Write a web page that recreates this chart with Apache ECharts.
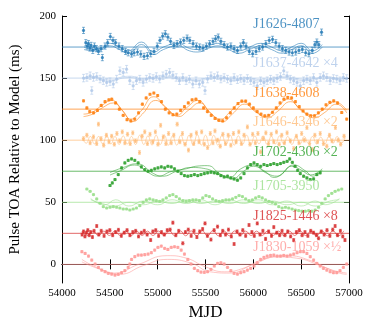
<!DOCTYPE html>
<html><head><meta charset="utf-8">
<script src="https://cdn.jsdelivr.net/npm/echarts@6/dist/echarts.min.js"></script>
<style>html,body{margin:0;padding:0;background:#fff}#c{width:374px;height:326px}</style>
</head><body><div id="c"></div>
<script>
// ---- axis / tick labels ----
const xTicks = [54000, 54500, 55000, 55500, 56000, 56500, 57000];
const yTicks = [0, 50, 100, 150, 200];
// ---- series meta ----
const names = ['J1626-4807', 'J1637-4642 ×4', 'J1638-4608', 'J1646-4346 ×2', 'J1702-4306 ×2', 'J1705-3950', 'J1825-1446 ×8', 'J1830-1059 ×½'];
const offsets = [175, 150, 125, 100, 75, 50, 25, 0];
const errors = [2.5, 3, 0.8, 1.5, 0.8, 0.6, 1.2, 0.8];
const colors = ['#1f77b4', '#aec7e8', '#ff7f0e', '#ffbb78', '#2ca02c', '#98df8a', '#d62728', '#ff9896'];
// ---- residuals [MJD, ms] ----
const J1626 = [[54225,13.4],[54249,3.5],[54263,0.8],[54277,2.7],[54291,-0.8],[54304,1.3],[54322,-2.7],[54339,0.8],[54360,-1.3],[54381,-3.5],[54408,-1.3],[54422,-8.5],[54450,0.8],[54477,3.5],[54505,8.5],[54533,5.4],[54560,3.5],[54595,0.8],[54630,-1.3],[54664,-3.5],[54692,-4.6],[54727,-5.6],[54754,-4.6],[54789,-4],[54823,-5.6],[54858,-7.5],[54893,-7],[54927,-5.4],[54962,-3.5],[54996,0.8],[55024,5.4],[55052,8.8],[55080,10.7],[55107,8],[55135,4.6],[55170,1.3],[55204,2.7],[55239,4],[55273,5.4],[55308,7.2],[55336,5.4],[55370,2.7],[55405,0.8],[55439,0],[55474,-0.8],[55509,0.8],[55543,2.7],[55578,4.6],[55605,6.7],[55633,8],[55661,4.6],[55695,1.9],[55730,0],[55765,0.8],[55799,-1.3],[55834,-2.7],[55868,0.8],[55896,3.5],[55924,0.8],[55958,-3.5],[55993,-5.4],[56028,-3.5],[56062,-1.3],[56097,0],[56131,2.7],[56166,5.4],[56201,6.2],[56235,3.5],[56270,0.8],[56304,-1.3],[56339,-2.7],[56374,-4],[56408,-4.6],[56443,-4],[56477,-2.7],[56512,-1.9],[56547,-4.6],[56581,-5.4],[56616,-2.7],[56643,1.9],[56664,4],[56685,1.9],[56713,12]];
const J1637 = [[54225,0],[54260,0.5],[54294,1.9],[54311,-10],[54329,0.5],[54363,1.3],[54398,-0.8],[54432,-2.1],[54467,-3.5],[54502,-2.9],[54536,-4.8],[54571,-0.8],[54605,5.9],[54640,4.6],[54675,7.2],[54709,-2.1],[54744,-6.2],[54778,-2.1],[54813,-0.8],[54848,-3.5],[54882,-0.8],[54917,0.5],[54952,-0.3],[54986,1.3],[55021,-0.8],[55055,1.9],[55090,3.2],[55125,4.6],[55159,2.4],[55194,0.5],[55228,-2.1],[55263,0.5],[55298,-2.1],[55332,-0.8],[55367,-4.8],[55401,-2.1],[55436,-4.8],[55471,-3.5],[55495,-10],[55522,-0.8],[55557,1.9],[55592,0.5],[55626,1.9],[55661,-0.8],[55695,0.5],[55730,-0.8],[55765,-2.1],[55799,0.5],[55834,-1.3],[55868,-0.3],[55903,-2.1],[55938,-0.3],[55972,-2.1],[56007,-3.5],[56041,-6.2],[56076,-2.1],[56111,-3.5],[56145,-2.1],[56180,-0.8],[56214,-2.1],[56249,-0.3],[56284,1.3],[56318,5.9],[56353,1.9],[56387,-0.8],[56422,-2.1],[56457,-3.5],[56491,-6.2],[56526,-2.1],[56560,-0.8],[56595,-2.1],[56630,0.5],[56664,-3.5],[56699,0.5],[56733,1.9],[56768,0.5],[56803,-2.1],[56837,-0.3],[56872,-0.8],[56906,-2.1],[56941,0.5],[56976,-0.3]];
const J1638 = [[54225,6.7],[54260,1],[54290,-2],[54330,-3],[54370,-1],[54410,3],[54450,6],[54490,7.5],[54520,8],[54560,5],[54600,0],[54640,-5],[54680,-8.5],[54720,-9.5],[54760,-8],[54800,-3],[54840,4],[54880,9],[54920,12],[54960,13],[55000,11],[55040,6],[55080,0],[55120,-3],[55160,-4.5],[55200,-4],[55240,-1],[55280,2],[55320,5],[55360,7.5],[55400,8],[55440,6],[55480,1],[55520,-2],[55560,-5],[55600,-7.5],[55640,-9],[55680,-9.5],[55720,-7],[55760,-3],[55800,1],[55840,4.5],[55880,6.5],[55920,6.5],[55960,4],[56000,1],[56040,-2],[56080,-4],[56120,-5.4],[56160,-5],[56200,-2.5],[56240,1],[56280,5],[56320,8],[56360,9.4],[56400,9],[56440,6],[56480,2],[56520,-1.5],[56560,-4],[56600,-5.4],[56640,-5.4],[56680,-3],[56720,0],[56760,3.5],[56800,5.5],[56840,6.7],[56880,5],[56924,-2.7],[56976,-8]];
const J1646 = [[54225,1.3],[54260,4],[54294,-2.1],[54329,2.7],[54363,-2.7],[54381,12.9],[54408,1.3],[54436,-4],[54464,4],[54491,-1.3],[54519,3.2],[54547,-3.2],[54574,5.4],[54602,-0.5],[54630,6.7],[54657,-2.1],[54685,4.8],[54713,-2.7],[54740,5.9],[54768,-0.5],[54810,-9.9],[54837,3.2],[54865,6.7],[54893,-2.7],[54920,4.8],[54948,-1.3],[54976,6.7],[55003,-3.2],[55031,12],[55059,2.7],[55086,-2.7],[55114,5.4],[55142,-2.1],[55169,4],[55204,12.9],[55232,-1.3],[55259,5.4],[55287,-3.2],[55322,-8],[55349,4],[55377,-2.7],[55405,5.9],[55432,-1.3],[55460,6.7],[55488,-3.2],[55522,-5.9],[55550,5.4],[55578,-2.1],[55599,7.5],[55626,0],[55654,-4.8],[55682,4.8],[55709,-2.7],[55737,4],[55765,-4],[55792,5.4],[55820,-1.3],[55848,6.7],[55875,-2.7],[55903,4],[55938,10.7],[55965,-3.2],[55993,4.8],[56021,-2.1],[56048,5.4],[56076,-9.4],[56104,1.3],[56131,5.9],[56159,-2.7],[56187,4.8],[56214,-1.3],[56242,6.7],[56270,-3.2],[56297,4],[56325,-2.1],[56353,5.9],[56387,-0.5],[56422,-6.7],[56450,3.2],[56477,-2.1],[56505,5.4],[56533,0],[56560,10.2],[56588,-2.7],[56616,-7.5],[56643,4],[56671,-1.3],[56699,5.4],[56733,-2.7],[56768,-4.8],[56796,4],[56823,-0.5],[56858,10.2],[56886,0],[56913,-3.2],[56948,3.2]];
const J1702 = [[54502,-11.5],[54526,-9.4],[54554,-6.7],[54588,-2.7],[54623,2.7],[54657,6.7],[54692,8.8],[54727,9.9],[54761,8.8],[54796,6.7],[54830,3.5],[54865,1.3],[54900,0],[54934,0.8],[54969,1.9],[55003,2.7],[55038,3.5],[55073,2.7],[55107,4],[55142,3.5],[55176,1.9],[55211,0],[55246,-1.9],[55280,-3.5],[55315,-4],[55349,-3.5],[55384,-2.7],[55419,-3.5],[55453,-2.7],[55488,-1.9],[55522,-1.3],[55557,-0.8],[55592,-1.3],[55626,-1.9],[55661,-3.5],[55695,-4.6],[55730,-4],[55765,-5.4],[55799,-6.2],[55834,-7.2],[55868,-5.4],[55903,-1.9],[55938,2.7],[55972,5.4],[56007,6.7],[56041,5.4],[56076,4],[56111,5.4],[56145,4.6],[56180,5.4],[56214,6.2],[56249,5.4],[56284,6.2],[56318,7.2],[56353,8],[56380,9.9],[56408,7.2],[56436,4],[56463,0.8],[56491,-1.9],[56526,-4],[56560,-5.4],[56595,-6.7],[56630,-6.2],[56664,-2.7],[56699,-1.3]];
const J1705 = [[54260,10.7],[54294,8.8],[54329,6.2],[54363,2.7],[54398,-0.8],[54432,-3.5],[54467,-4.6],[54502,-4],[54536,-3.5],[54571,-4],[54605,-4.6],[54640,-5.4],[54675,-5.4],[54709,-6.2],[54744,-5.4],[54778,-4.6],[54813,-2.7],[54848,0],[54882,1.9],[54917,2.7],[54952,1.9],[54986,1.3],[55021,0.8],[55055,1.9],[55090,3.5],[55125,5.4],[55159,6.2],[55194,4.6],[55228,2.7],[55263,1.3],[55298,0.8],[55332,1.3],[55367,1.9],[55401,1.9],[55436,1.3],[55471,3.5],[55505,5.4],[55540,4.6],[55574,2.7],[55609,1.3],[55644,0.8],[55678,1.3],[55713,1.9],[55747,1.9],[55782,2.7],[55817,4],[55851,5.4],[55886,4.6],[55920,2.7],[55955,1.3],[55990,1.9],[56024,3.5],[56059,4.6],[56093,3.5],[56128,1.9],[56163,0.8],[56197,0],[56232,-1.3],[56266,-3.5],[56301,-4.6],[56336,-4],[56370,-4.6],[56405,-5.4],[56439,-6.2],[56474,-6.7],[56509,-7.2],[56543,-7.2],[56578,-6.7],[56612,-7.2],[56647,-6.2],[56682,-4],[56716,-0.8],[56751,2.7],[56785,5.4],[56820,7.2],[56855,8.8],[56889,9.9],[56924,10.7]];
const J1825 = [[54210,-1],[54225,1.5],[54240,-2.5],[54255,0.5],[54270,2.5],[54285,-1.5],[54300,1],[54318,-3],[54335,2],[54363,5.9],[54385,-1],[54410,2],[54440,-2],[54470,1.5],[54500,2.5],[54530,-1.5],[54560,1],[54590,2.8],[54620,-2],[54650,0.5],[54680,2.5],[54710,-1.5],[54740,1],[54770,2],[54800,-2.5],[54830,0.5],[54860,2],[54890,-1],[54927,-5.4],[54950,1.5],[54980,2.5],[55010,-2],[55040,1],[55070,-1],[55100,2.5],[55130,3],[55159,8.6],[55190,-1.5],[55220,2],[55263,-8],[55290,1],[55320,3],[55350,-2],[55380,2],[55410,-3],[55440,1.5],[55470,3.5],[55495,8],[55520,-2],[55557,-5],[55590,2.5],[55626,5.4],[55655,-1.5],[55680,2],[55710,-1],[55740,3],[55770,-2.5],[55799,-8.6],[55830,1.5],[55860,-1],[55890,2.5],[55920,-2],[55955,6.7],[55985,1],[56010,-2],[56041,8],[56070,-1],[56100,2],[56128,-4.5],[56160,1.5],[56190,-2],[56214,5],[56245,0.5],[56275,-1.5],[56300,2],[56330,-1.5],[56360,1.5],[56390,-2.5],[56422,-5.4],[56450,1],[56480,2.5],[56510,-1.5],[56540,1],[56570,-2],[56600,2],[56630,0.5],[56660,-1.5],[56682,-4],[56710,1.5],[56740,-1],[56770,2.5],[56800,-2],[56830,3],[56855,5.9],[56880,-1.5],[56910,2],[56935,-2.5],[56958,-5.4]];
const J1830 = [[54208,10.2],[54242,8.8],[54277,6.7],[54311,3.5],[54346,0.3],[54381,-2.4],[54415,-4.6],[54450,-5.9],[54484,-7.2],[54519,-7.8],[54554,-8.6],[54588,-8],[54623,-6.7],[54657,-5.1],[54692,-2.4],[54709,0.3],[54727,4],[54761,6.2],[54796,7.5],[54830,7.5],[54865,7.8],[54900,8.3],[54934,9.4],[54969,11.5],[55003,13.7],[55038,14.7],[55073,12.9],[55107,12],[55142,13.7],[55176,14.2],[55211,13.7],[55246,11.5],[55280,8.3],[55315,4],[55349,0.3],[55384,-3.2],[55419,-5.1],[55453,-6.2],[55488,-6.4],[55522,-5.9],[55557,-4],[55592,-1.3],[55626,0.8],[55661,1.3],[55695,0.3],[55730,-2.4],[55765,-5.1],[55799,-7.2],[55834,-7.8],[55868,-6.7],[55903,-5.9],[55938,-4.6],[55972,-3.2],[56007,-1.3],[56041,1.3],[56076,4],[56111,5.6],[56145,6.7],[56180,7.2],[56214,7.5],[56249,6.7],[56284,6.7],[56318,7.2],[56353,6.7],[56387,7.5],[56422,8.3],[56457,9.4],[56491,10.2],[56526,10.2],[56560,8.8],[56595,6.2],[56630,3.5],[56664,0.8],[56699,-1.3],[56733,-3.2],[56768,-4.6],[56803,-5.9],[56837,-6.7],[56872,-6.7],[56906,-5.1],[56941,-2.4],[56976,0.3]];
// ---- timing models (two per pulsar) [MJD, ms] ----
const J1626A = [[54230,0],[54330,-2],[54420,-1],[54500,3],[54600,0],[54690,-3],[54830,4],[54960,-4],[55060,0],[55210,3],[55330,-1],[55420,-2],[55530,1],[55630,3],[55740,0],[55850,-3],[55960,0],[56080,3],[56190,0],[56300,-3],[56400,0],[56500,3],[56620,-3],[56720,2]];
const J1626B = [[54230,-2],[54330,-3],[54420,-2],[54500,1],[54600,-2],[54690,-5],[54830,2],[54960,-6],[55060,-2],[55210,1],[55330,-3],[55420,-4],[55530,-1],[55630,1],[55740,-2],[55850,-5],[55960,-2],[56080,1],[56190,-2],[56300,-5],[56400,-2],[56500,1],[56620,-5],[56720,0]];
const J1637A = [[54230,0],[54330,1.5],[54430,-1],[54530,-1.5],[54630,1],[54730,1.5],[54830,-1],[54930,0.5],[55030,1],[55130,1.5],[55230,-0.5],[55330,-1],[55430,-1.5],[55530,0.5],[55630,1],[55730,0],[55830,-1],[55930,0.5],[56030,-1],[56130,-1.5],[56230,0.5],[56330,1.5],[56430,0],[56530,-1],[56630,-0.5],[56730,1],[56830,0.5],[56930,-0.5],[56980,0]];
const J1637B = [[54230,-1],[54330,0.5],[54430,-2],[54530,-2.5],[54630,0],[54730,0.5],[54830,-2],[54930,-0.5],[55030,0],[55130,0.5],[55230,-1.5],[55330,-2],[55430,-2.5],[55530,-0.5],[55630,0],[55730,-1],[55830,-2],[55930,-0.5],[56030,-2],[56130,-2.5],[56230,-0.5],[56330,0.5],[56430,-1],[56530,-2],[56630,-1.5],[56730,0],[56830,-0.5],[56930,-1.5],[56980,-1]];
const J1638A = [[54225,-4],[54300,-3],[54400,2],[54520,7],[54620,0],[54720,-8],[54820,-2],[54960,10],[55080,2],[55200,-5],[55300,1],[55420,7],[55540,-2],[55660,-8],[55760,-2],[55890,6],[56000,0],[56130,-6],[56230,0],[56370,8],[56480,1],[56620,-5],[56720,-1],[56850,6],[56976,-1]];
const J1638B = [[54225,-6],[54320,-4],[54420,1],[54540,5],[54640,-2],[54740,-10],[54840,-4],[54980,7],[55100,0],[55220,-6],[55320,-1],[55440,5],[55560,-4],[55680,-10],[55780,-4],[55910,4],[56020,-2],[56150,-7],[56250,-2],[56390,6],[56500,-1],[56640,-7],[56740,-3],[56870,4],[56976,-3]];
const J1646A = [[54210,2],[54253,-2.5],[54296,3],[54339,-3],[54382,3],[54425,-3],[54468,3.5],[54511,-3],[54554,3],[54597,-3.5],[54640,3.5],[54683,-3],[54726,3],[54769,-3.5],[54812,4],[54855,-3.5],[54898,3.5],[54941,-4],[54984,4],[55027,-3.5],[55070,4],[55113,-4],[55156,3.5],[55199,-4],[55242,4],[55285,-3.5],[55328,4],[55371,-4],[55414,4.5],[55457,-4],[55500,4],[55543,-4.5],[55586,4],[55629,-4],[55672,4],[55715,-3.5],[55758,4],[55801,-4],[55844,3.5],[55887,-3.5],[55930,4],[55973,-3.5],[56016,3.5],[56059,-3],[56102,3.5],[56145,-3.5],[56188,3],[56231,-3],[56274,3.5],[56317,-3],[56360,3],[56403,-3.5],[56446,3],[56489,-3],[56532,3],[56575,-2.5],[56618,3],[56661,-3],[56704,2.5],[56747,-3],[56790,3],[56833,-2.5],[56876,3],[56919,-2.5],[56958,2]];
const J1702A = [[54502,-3],[54600,0],[54760,5],[54900,-1],[55000,-4],[55150,0],[55300,2],[55400,4],[55520,4.5],[55650,-2],[55750,-5],[55870,2],[55990,5],[56120,0],[56220,-5],[56300,-2],[56420,5],[56550,0],[56620,-4],[56720,1]];
const J1702B = [[54502,-1],[54640,3],[54780,6],[54960,-2],[55050,-4],[55200,0],[55350,3],[55500,2],[55650,-3],[55780,-6],[55900,0],[56000,4],[56150,-2],[56250,-4],[56400,4],[56500,1],[56600,-3],[56720,2]];
const J1705A = [[54300,3],[54450,-2],[54560,2],[54700,-3],[54850,1],[55000,-2],[55150,2],[55300,-1],[55450,2],[55600,-2],[55750,2],[55900,-1],[56050,2],[56200,-2],[56350,1],[56500,-3],[56650,1],[56750,-2],[56900,3]];
const J1705B = [[54300,2],[54420,-1],[54550,-3],[54700,0],[54850,-2],[55000,1],[55150,-1],[55300,2],[55450,-1],[55600,1],[55750,-1],[55900,2],[56050,-1],[56200,1],[56350,-2],[56500,0],[56650,-3],[56800,1],[56900,2]];
const J1825A = [[54210,1.5],[54267,-1.8],[54324,1.8],[54381,-1.8],[54438,1.8],[54495,-1.8],[54552,1.8],[54609,-1.8],[54666,1.8],[54723,-1.8],[54780,1.8],[54837,-1.8],[54894,1.8],[54951,-1.8],[55008,1.8],[55065,-1.8],[55122,2],[55179,-2],[55236,2],[55293,-2],[55350,2],[55407,-2],[55464,2.2],[55521,-2],[55578,2.2],[55635,-2],[55692,2],[55749,-2],[55806,2],[55863,-1.8],[55920,1.8],[55977,-1.8],[56034,1.8],[56091,-1.8],[56148,1.8],[56205,-1.8],[56262,1.8],[56319,-1.8],[56376,1.8],[56433,-1.8],[56490,1.8],[56547,-1.8],[56604,1.8],[56661,-1.8],[56718,2],[56775,-2],[56832,2],[56889,-2],[56946,2]];
const J1830A = [[54208,4],[54350,-2],[54550,-7],[54800,0],[55100,7],[55300,5],[55500,-2],[55700,-6],[55900,-3],[56100,4],[56350,7],[56600,3],[56800,-4],[56976,-7]];
const J1830B = [[54208,2],[54400,-4],[54600,-8],[54850,-1],[55100,4],[55350,1],[55550,-6],[55750,-7],[56000,0],[56250,6],[56450,5],[56700,-1],[56900,-7],[56976,-8]];

// ---- layout (not data) ----
const labelLift = [18, 12, 13, 14, 15.5, 13, 13.5, 13.5];
const labelMJD = 56000;
const FONT = 'Liberation Serif';

const residuals = [J1626, J1637, J1638, J1646, J1702, J1705, J1825, J1830];
const models = [[J1626A, J1626B], [J1637A, J1637B], [J1638A, J1638B], [J1646A], [J1702A, J1702B], [J1705A, J1705B], [J1825A], [J1830A, J1830B]];
const XMIN = xTicks[0], XMAX = xTicks[xTicks.length - 1];

function errRender(color) {
  return function (params, api) {
    const x = api.value(0), y = api.value(1), e = api.value(2);
    const p = api.coord([x, y]);
    const t = api.coord([x, y + e]);
    const b = api.coord([x, y - e]);
    const st = { stroke: color, lineWidth: 0.8, opacity: 0.7 };
    return {
      type: 'group', children: [
        { type: 'line', shape: { x1: p[0], y1: t[1], x2: p[0], y2: b[1] }, style: st },
        { type: 'line', shape: { x1: p[0] - 1.5, y1: t[1], x2: p[0] + 1.5, y2: t[1] }, style: st },
        { type: 'line', shape: { x1: p[0] - 1.5, y1: b[1], x2: p[0] + 1.5, y2: b[1] }, style: st },
        { type: 'circle', shape: { cx: p[0], cy: p[1], r: 1.6 }, style: { fill: color, opacity: 0.8 } }
      ]
    };
  };
}

const series = [];
names.forEach((nm, i) => {
  const off = offsets[i], col = colors[i];
  series.push({
    type: 'line', silent: true, symbol: 'none', z: 1,
    data: [[XMIN, off], [XMAX, off]],
    lineStyle: { color: col, width: 1, opacity: 0.7 }
  });
  models[i].forEach(m => {
    series.push({
      type: 'line', silent: true, symbol: 'none', smooth: 0.5, z: 2,
      data: m.map(([t, v]) => [t, v + off]),
      lineStyle: { color: col, width: 0.8, opacity: 0.7 }
    });
  });
  series.push({
    type: 'custom', z: 3, silent: true,
    renderItem: errRender(col),
    encode: { x: 0, y: 1 },
    data: residuals[i].map(([t, v]) => [t, v + off, errors[i]])
  });
  series.push({
    type: 'scatter', symbolSize: 0, silent: true, z: 4,
    data: [[labelMJD, off + labelLift[i]]],
    label: {
      show: true, position: 'right', distance: 0, formatter: nm,
      color: col, fontSize: 14, fontFamily: FONT
    }
  });
});

const axisLineStyle = { show: true, lineStyle: { color: '#000', width: 1 } };
const tickStyle = { show: true, inside: true, length: 5, lineStyle: { color: '#000', width: 1 } };

const option = {
  animation: false,
  grid: { left: 60, right: 25, top: 16, bottom: 43 },
  xAxis: [
    {
      type: 'value', min: XMIN, max: XMAX, interval: 500, position: 'bottom',
      axisLine: axisLineStyle, axisTick: tickStyle, splitLine: { show: false },
      axisLabel: { color: '#000', fontSize: 11, fontFamily: FONT, margin: 5, formatter: v => String(v) },
      name: 'MJD', nameLocation: 'middle', nameGap: 15,
      nameTextStyle: { color: '#000', fontSize: 17, fontFamily: FONT }
    },
    {
      type: 'value', min: XMIN, max: XMAX, interval: 500, position: 'top',
      axisLine: axisLineStyle, axisTick: tickStyle, splitLine: { show: false },
      axisLabel: { show: false }
    }
  ],
  yAxis: [
    {
      type: 'value', min: -15, max: yTicks[yTicks.length - 1], position: 'left',
      axisLine: axisLineStyle,
      axisTick: Object.assign({}, tickStyle, { customValues: yTicks }),
      splitLine: { show: false },
      axisLabel: { color: '#000', fontSize: 11, fontFamily: FONT, margin: 6, customValues: yTicks },
      name: 'Pulse TOA Relative to Model (ms)', nameLocation: 'middle', nameGap: 39,
      nameTextStyle: { color: '#000', fontSize: 15, fontFamily: FONT }
    },
    {
      type: 'value', min: -15, max: yTicks[yTicks.length - 1], position: 'right',
      axisLine: axisLineStyle,
      axisTick: Object.assign({}, tickStyle, { customValues: yTicks }),
      splitLine: { show: false },
      axisLabel: { show: false, customValues: yTicks }
    }
  ],
  series: series
};
const chart = echarts.init(document.getElementById('c'), null, { renderer: 'canvas' });
chart.setOption(option);
</script></body></html>
